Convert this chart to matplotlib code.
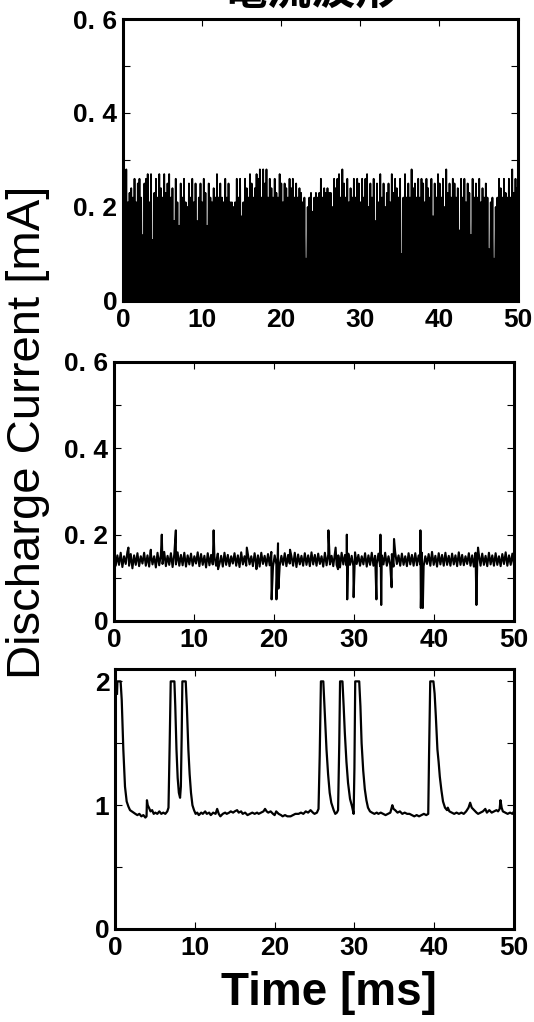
import numpy as np
import matplotlib
matplotlib.use("Agg")
import matplotlib.pyplot as plt

# ---- data ----
# panel 1: peak heights of the fast oscillation (mA), troughs at 0
i1_peaks = [
    0.19, 0.14, 0.28, 0.21, 0.23, 0.24, 0.22, 0.26, 0.21, 0.25, 0.26, 0.22, 0.14, 0.25, 0.26, 0.27, 0.21, 0.27, 0.13, 0.23,
    0.26, 0.22, 0.27, 0.24, 0.22, 0.27, 0.23, 0.25, 0.27, 0.22, 0.24, 0.17, 0.26, 0.21, 0.16, 0.25, 0.22, 0.26, 0.21, 0.20,
    0.25, 0.22, 0.26, 0.21, 0.25, 0.17, 0.22, 0.25, 0.21, 0.26, 0.23, 0.16, 0.25, 0.22, 0.21, 0.24, 0.22, 0.27, 0.22, 0.25,
    0.22, 0.21, 0.26, 0.22, 0.25, 0.21, 0.21, 0.20, 0.21, 0.26, 0.22, 0.26, 0.18, 0.21, 0.26, 0.24, 0.22, 0.27, 0.25, 0.22,
    0.24, 0.27, 0.26, 0.28, 0.22, 0.28, 0.25, 0.28, 0.22, 0.26, 0.24, 0.22, 0.26, 0.23, 0.22, 0.27, 0.25, 0.21, 0.25, 0.24,
    0.22, 0.26, 0.24, 0.26, 0.22, 0.25, 0.22, 0.24, 0.23, 0.21, 0.22, 0.09, 0.20, 0.22, 0.23, 0.19, 0.22, 0.23, 0.22, 0.23,
    0.26, 0.22, 0.24, 0.23, 0.24, 0.23, 0.23, 0.20, 0.26, 0.24, 0.26, 0.27, 0.22, 0.28, 0.25, 0.22, 0.26, 0.21, 0.24, 0.22,
    0.26, 0.22, 0.26, 0.25, 0.21, 0.26, 0.22, 0.26, 0.27, 0.20, 0.25, 0.22, 0.26, 0.17, 0.25, 0.21, 0.27, 0.22, 0.25, 0.20,
    0.23, 0.25, 0.21, 0.27, 0.23, 0.26, 0.24, 0.22, 0.26, 0.10, 0.22, 0.27, 0.22, 0.25, 0.22, 0.28, 0.24, 0.25, 0.22, 0.26,
    0.22, 0.26, 0.25, 0.21, 0.26, 0.24, 0.22, 0.26, 0.18, 0.25, 0.22, 0.27, 0.25, 0.22, 0.26, 0.20, 0.28, 0.23, 0.25, 0.22,
    0.26, 0.25, 0.22, 0.24, 0.15, 0.26, 0.22, 0.26, 0.21, 0.25, 0.23, 0.14, 0.26, 0.22, 0.25, 0.22, 0.26, 0.21, 0.24, 0.22,
    0.25, 0.22, 0.11, 0.21, 0.22, 0.09, 0.20, 0.22, 0.26, 0.24, 0.22, 0.26, 0.23, 0.22, 0.26, 0.22, 0.28, 0.23, 0.26, 0.24,
]

# panel 2: noisy baseline samples + isolated spikes
i2_base = [
    0.155, 0.128, 0.152, 0.130, 0.158, 0.125, 0.150, 0.132, 0.160, 0.128, 0.155, 0.122, 0.152, 0.130, 0.157, 0.127, 0.150, 0.133, 0.158, 0.128,
    0.152, 0.126, 0.156, 0.131, 0.150, 0.124, 0.158, 0.129, 0.153, 0.132, 0.160, 0.127, 0.151, 0.130, 0.157, 0.125, 0.154, 0.131, 0.159, 0.128,
    0.153, 0.129, 0.158, 0.126, 0.152, 0.131, 0.156, 0.128, 0.150, 0.133, 0.159, 0.127, 0.155, 0.130, 0.151, 0.124, 0.157, 0.129, 0.153, 0.131,
    0.149, 0.128, 0.156, 0.132, 0.151, 0.126, 0.158, 0.130, 0.153, 0.127, 0.150, 0.133, 0.157, 0.128, 0.152, 0.125, 0.159, 0.131, 0.150, 0.128,
    0.155, 0.131, 0.150, 0.127, 0.157, 0.130, 0.152, 0.126, 0.158, 0.132, 0.151, 0.128, 0.155, 0.129, 0.160, 0.126, 0.152, 0.131, 0.156, 0.128,
    0.151, 0.130, 0.157, 0.127, 0.153, 0.133, 0.150, 0.128, 0.158, 0.125, 0.154, 0.131, 0.151, 0.128, 0.157, 0.130, 0.152, 0.127, 0.159, 0.131,
    0.153, 0.128, 0.156, 0.132, 0.150, 0.126, 0.158, 0.129, 0.154, 0.131, 0.151, 0.127, 0.157, 0.130, 0.152, 0.124, 0.158, 0.131, 0.153, 0.128,
    0.156, 0.130, 0.151, 0.127, 0.159, 0.132, 0.153, 0.128, 0.150, 0.131, 0.157, 0.126, 0.152, 0.130, 0.158, 0.128, 0.151, 0.133, 0.156, 0.127,
    0.152, 0.131, 0.158, 0.128, 0.150, 0.130, 0.155, 0.126, 0.159, 0.132, 0.152, 0.128, 0.156, 0.130, 0.150, 0.127, 0.157, 0.131, 0.153, 0.128,
    0.157, 0.129, 0.152, 0.131, 0.158, 0.127, 0.150, 0.132, 0.155, 0.128, 0.160, 0.130, 0.151, 0.126, 0.157, 0.131, 0.153, 0.128, 0.158, 0.130,
    0.151, 0.128, 0.156, 0.131, 0.152, 0.127, 0.159, 0.130, 0.153, 0.129, 0.150, 0.132, 0.157, 0.128, 0.152, 0.126, 0.158, 0.131, 0.154, 0.128,
    0.156, 0.130, 0.151, 0.127, 0.158, 0.131, 0.152, 0.128, 0.157, 0.130, 0.150, 0.127, 0.155, 0.132, 0.159, 0.128, 0.152, 0.130, 0.156, 0.129,
]
i2_spike_t = [1.8, 4.6, 5.97, 7.73, 12.45, 13.0, 16.6, 17.8, 19.7, 20.3, 20.5, 20.55, 22.0, 26.8, 27.7, 28.0,
              29.1, 29.15, 29.95, 32.8, 33.3, 33.4, 34.7, 35.0, 38.3, 38.35, 38.5, 38.6, 45.3, 45.5]
i2_spike_v = [0.17, 0.165, 0.20, 0.21, 0.21, 0.12, 0.17, 0.12, 0.05, 0.05, 0.18, 0.075, 0.165, 0.21, 0.17, 0.12,
              0.20, 0.05, 0.055, 0.05, 0.20, 0.037, 0.078, 0.19, 0.21, 0.03, 0.06, 0.03, 0.037, 0.17]

# panel 3: traced waveform (t in ms, current in mA)
i3_t = [0.25, 0.30, 0.70, 0.84, 1.04, 1.25, 1.46, 1.67, 1.88, 2.10, 2.30, 2.55, 2.80, 3.05, 3.30, 3.55, 3.80, 3.95,
        4.00, 4.10, 4.25, 4.45, 4.65, 4.85, 5.05, 5.30, 5.55, 5.80, 6.05, 6.30, 6.55, 6.70, 6.85, 6.98, 7.44, 7.55,
        7.70, 7.85, 8.00, 8.15, 8.25, 8.35, 8.44, 8.86, 9.00, 9.19, 9.35, 9.52, 9.70, 9.90, 10.1, 10.3, 10.5, 10.8,
        11.0, 11.3, 11.5, 11.8, 12.0, 12.3, 12.6, 12.8, 13.0, 13.2, 13.5, 13.8, 14.0, 14.3, 14.5, 14.8, 15.0, 15.3,
        15.5, 15.8, 16.0, 16.3, 16.6, 16.9, 17.2, 17.5, 17.8, 18.0, 18.3, 18.6, 18.8, 19.0, 19.2, 19.5, 19.8, 20.0,
        20.2, 20.5, 20.8, 21.0, 21.3, 21.6, 22.0, 22.3, 22.6, 23.0, 23.3, 23.6, 23.9, 24.2, 24.5, 24.8, 25.0, 25.3,
        25.5, 25.65, 25.8, 26.1, 26.25, 26.5, 26.7, 26.9, 27.1, 27.4, 27.6, 27.8, 27.95, 28.1, 28.2, 28.5, 28.65,
        28.8, 29.0, 29.2, 29.45, 29.7, 29.9, 30.0, 30.1, 30.6, 30.75, 30.9, 31.1, 31.3, 31.5, 31.7, 31.95, 32.2,
        32.5, 32.8, 33.0, 33.3, 33.6, 33.9, 34.2, 34.5, 34.75, 34.9, 35.1, 35.4, 35.7, 36.0, 36.3, 36.6, 36.9,
        37.2, 37.5, 37.8, 38.1, 38.4, 38.7, 39.0, 39.25, 39.35, 39.5, 39.9, 40.05, 40.2, 40.4, 40.55, 40.7, 40.9,
        41.1, 41.35, 41.6, 41.7, 41.9, 42.2, 42.5, 42.8, 43.1, 43.4, 43.7, 44.0, 44.3, 44.5, 44.7, 45.0, 45.3,
        45.5, 45.8, 46.1, 46.4, 46.6, 46.9, 47.2, 47.5, 47.8, 48.0, 48.2, 48.3, 48.45, 48.6, 48.9, 49.2, 49.5,
        49.8, 50.0]
i3_v = [1.90, 2.00, 2.00, 1.85, 1.45, 1.15, 1.03, 0.99, 0.96, 0.95, 0.94, 0.93, 0.92, 0.93, 0.91, 0.92, 0.90, 0.91,
        1.04, 1.00, 0.98, 0.95, 0.96, 0.93, 0.94, 0.93, 0.95, 0.93, 0.94, 0.93, 0.95, 0.98, 1.50, 2.00, 2.00, 1.80,
        1.45, 1.22, 1.10, 1.06, 1.15, 1.55, 2.00, 2.00, 1.80, 1.45, 1.25, 1.10, 1.00, 0.96, 0.93, 0.94, 0.92, 0.94,
        0.93, 0.95, 0.93, 0.94, 0.92, 0.94, 0.93, 0.97, 0.93, 0.91, 0.93, 0.94, 0.93, 0.94, 0.95, 0.94, 0.95, 0.96,
        0.94, 0.95, 0.93, 0.94, 0.92, 0.93, 0.94, 0.93, 0.94, 0.93, 0.94, 0.95, 0.97, 0.95, 0.94, 0.95, 0.93, 0.92,
        0.95, 0.93, 0.92, 0.91, 0.92, 0.91, 0.91, 0.92, 0.93, 0.93, 0.94, 0.93, 0.95, 0.94, 0.96, 0.94, 0.93, 0.94,
        0.97, 1.40, 2.00, 2.00, 1.80, 1.45, 1.25, 1.10, 1.02, 0.96, 0.93, 0.94, 0.96, 1.50, 2.00, 2.00, 1.80,
        1.58, 1.35, 1.18, 1.05, 0.99, 0.93, 1.30, 2.00, 2.00, 1.80, 1.50, 1.28, 1.13, 1.04, 0.98, 0.95, 0.94,
        0.93, 0.94, 0.93, 0.94, 0.93, 0.92, 0.93, 0.94, 1.00, 0.97, 0.96, 0.94, 0.95, 0.93, 0.94, 0.93, 0.93,
        0.92, 0.91, 0.92, 0.91, 0.92, 0.93, 0.92, 0.93, 1.40, 2.00, 2.00, 1.90, 1.72, 1.45, 1.35, 1.23, 1.12,
        1.03, 0.98, 0.96, 0.98, 0.95, 0.94, 0.93, 0.94, 0.93, 0.94, 0.93, 0.95, 0.98, 1.02, 0.98, 0.96, 0.94,
        0.93, 0.94, 0.95, 0.97, 0.94, 0.96, 0.94, 0.95, 0.96, 0.95, 0.97, 1.04, 0.98, 0.95, 0.94, 0.93, 0.94,
        0.93, 0.95]

x_ticks = [0, 10, 20, 30, 40, 50]
tick_font = dict(family=["Liberation Sans", "DejaVu Sans"], weight="bold", size=19)

# panel 1 zigzag: each peak followed by a trough at 0
n1 = len(i1_peaks)
t1 = np.linspace(0, 50, 2 * n1)
y1 = np.zeros(2 * n1)
y1[0::2] = i1_peaks

# panel 2: baseline samples merged with spikes, in time order
t2 = np.concatenate([np.linspace(0, 50, len(i2_base)), i2_spike_t])
y2 = np.concatenate([i2_base, i2_spike_v])
order = np.argsort(t2, kind="stable")
t2, y2 = t2[order], y2[order]

fig = plt.figure(figsize=(5.34, 10.22), dpi=100)

ax1 = fig.add_axes([0.2303, 0.7055, 0.7397, 0.2759])
ax2 = fig.add_axes([0.2135, 0.3924, 0.7491, 0.2534])
ax3 = fig.add_axes([0.2154, 0.0910, 0.7472, 0.2544])

ax1.plot(t1, y1, color="black", lw=1.3)
ax2.plot(t2, y2, color="black", lw=1.5)
ax3.plot(i3_t, i3_v, color="black", lw=1.6)


def style(ax, ymax, yticks, ylabels, yminor):
    ax.set_xlim(0, 50)
    ax.set_ylim(0, ymax)
    ax.set_xticks(x_ticks)
    ax.set_xticklabels([str(v) for v in x_ticks], **tick_font)
    ax.set_yticks(yticks)
    ax.set_yticklabels(ylabels, **tick_font)
    ax.set_yticks(yminor, minor=True)
    ax.tick_params(which="both", direction="in", top=True, right=True,
                   length=5, width=0.8)
    ax.tick_params(axis="x", pad=5)
    ax.tick_params(axis="y", pad=4)
    for s in ax.spines.values():
        s.set_linewidth(2.2)


style(ax1, 0.6, [0, 0.2, 0.4, 0.6], ["0", "0. 2", "0. 4", "0. 6"], [0.1, 0.3, 0.5])
style(ax2, 0.6, [0, 0.2, 0.4, 0.6], ["0", "0. 2", "0. 4", "0. 6"], [0.1, 0.3, 0.5])
style(ax3, 2.1, [0, 1, 2], ["0", "1", "2"], [0.5, 1.5])

fig.text(0.584, 1 - 13 / 1022, "電流波形", ha="center", va="bottom",
         family=["Noto Sans CJK JP", "DejaVu Sans"], weight="bold", fontsize=32)
fig.text(28 / 534, 0.577, "Discharge Current [mA]", rotation=90, ha="center", va="center",
         family=["Liberation Sans", "DejaVu Sans"], fontsize=34)
fig.text(329 / 534, 0.028, "Time [ms]", ha="center", va="center",
         family=["Liberation Sans", "DejaVu Sans"], weight="bold", fontsize=33)

fig.savefig("out.png", dpi=100)
